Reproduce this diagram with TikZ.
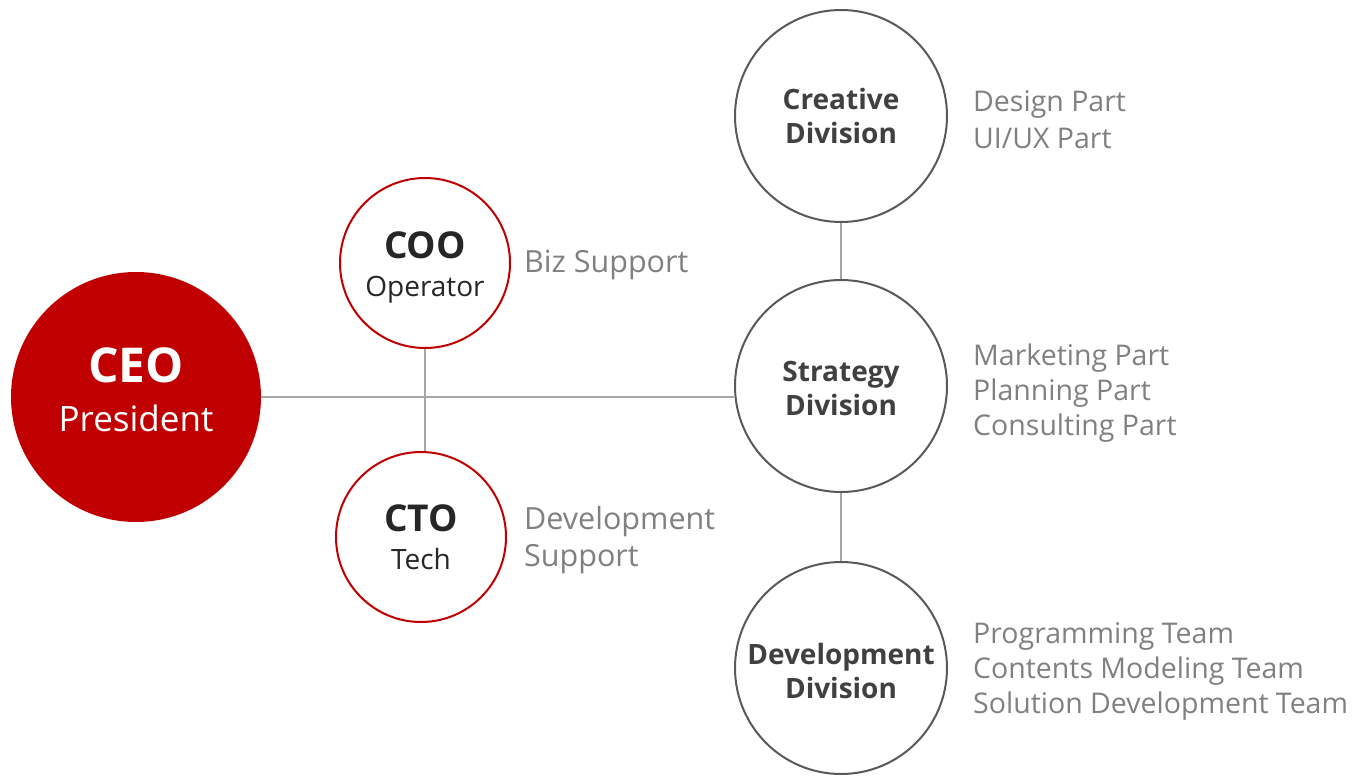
\documentclass[tikz,border=0pt]{standalone}
\usepackage{fontspec}
\setmainfont{Open Sans}
\definecolor{cred}{HTML}{C00000}
\definecolor{cline}{HTML}{A6A6A6}
\definecolor{cgray}{HTML}{808080}
\definecolor{cdark}{HTML}{262626}
\definecolor{cdiv}{HTML}{404040}
\definecolor{cring}{HTML}{595959}
\tikzset{
  conn/.style={draw=cline, line width=2pt},
  ceostyle/.style={circle, fill=cred, inner sep=0pt, minimum size=250pt},
  cstyle/.style={circle, draw=cred, line width=2pt, fill=white, inner sep=0pt, minimum size=170pt},
  divstyle/.style={circle, draw=cring, line width=2pt, fill=white, inner sep=0pt, minimum size=212pt},
  ceotext/.style={inner sep=0pt, text=white, align=center, font=\fontsize{35}{49}\selectfont},
  ctext/.style={inner sep=0pt, text=cdark, align=center, font=\fontsize{28}{38}\selectfont},
  divtext/.style={inner sep=0pt, text=cdiv, align=center, font=\fontsize{28}{34}\selectfont\bfseries},
  lbl/.style={anchor=west, inner sep=0pt, text=cgray, align=left, font=\fontsize{28.5}{35}\selectfont},
  lbll/.style={anchor=west, inner sep=0pt, text=cgray, align=left, font=\fontsize{30.5}{37}\selectfont}
}
\begin{document}
\begin{tikzpicture}[x=1pt,y=-1pt]
\useasboundingbox (0,0) rectangle (1353,776);
% circles
\node[ceostyle] (ceo) at (136,397) {};
\node[cstyle] (coo) at (425,263) {};
\node[cstyle] (cto) at (421,537) {};
\node[divstyle] (crea) at (841,116) {};
\node[divstyle] (strat) at (841,386) {};
\node[divstyle] (dev) at (841,668) {};
% circle texts
\node[ceotext] (ceot) at ([yshift=7pt]ceo.center) {{\fontsize{48}{49}\selectfont\bfseries CEO}\\President};
\node[ctext] (coot) at ([yshift=-4pt]coo.center) {{\fontsize{37}{38}\selectfont\bfseries COO}\\Operator};
\node[ctext] (ctot) at ([yshift=0pt]cto.center) {{\fontsize{37}{38}\selectfont\bfseries CTO}\\Tech};
\node[divtext] (creat) at ([yshift=0pt]crea.center) {Creative\\Division};
\node[divtext] (stratt) at ([yshift=-2pt]strat.center) {Strategy\\Division};
\node[divtext] (devt) at ([yshift=-3pt]dev.center) {Development\\Division};
% labels
\node[lbll] (lcoo) at (524,265) {Biz Support};
\node[lbll] (lcto) at (524,540) {Development\\Support};
\node[lbl, font=\fontsize{28.5}{37}\selectfont] (lcrea) at (973,120) {Design Part\\UI/UX Part};
\node[lbl] (lstrat) at (973,393) {Marketing Part\\Planning Part\\Consulting Part};
\node[lbl] (ldev) at (973,671) {Programming Team\\Contents Modeling Team\\Solution Development Team};
% connectors
\coordinate (hr) at (strat.west |- ceo.east);
\draw[conn] (ceo.east) -- (hr);
\draw[conn] (coo.south) -- (coo.south |- cto.north);
\draw[conn] (crea.south) -- (strat.north);
\draw[conn] (strat.south) -- (dev.north);
\end{tikzpicture}
\end{document}
